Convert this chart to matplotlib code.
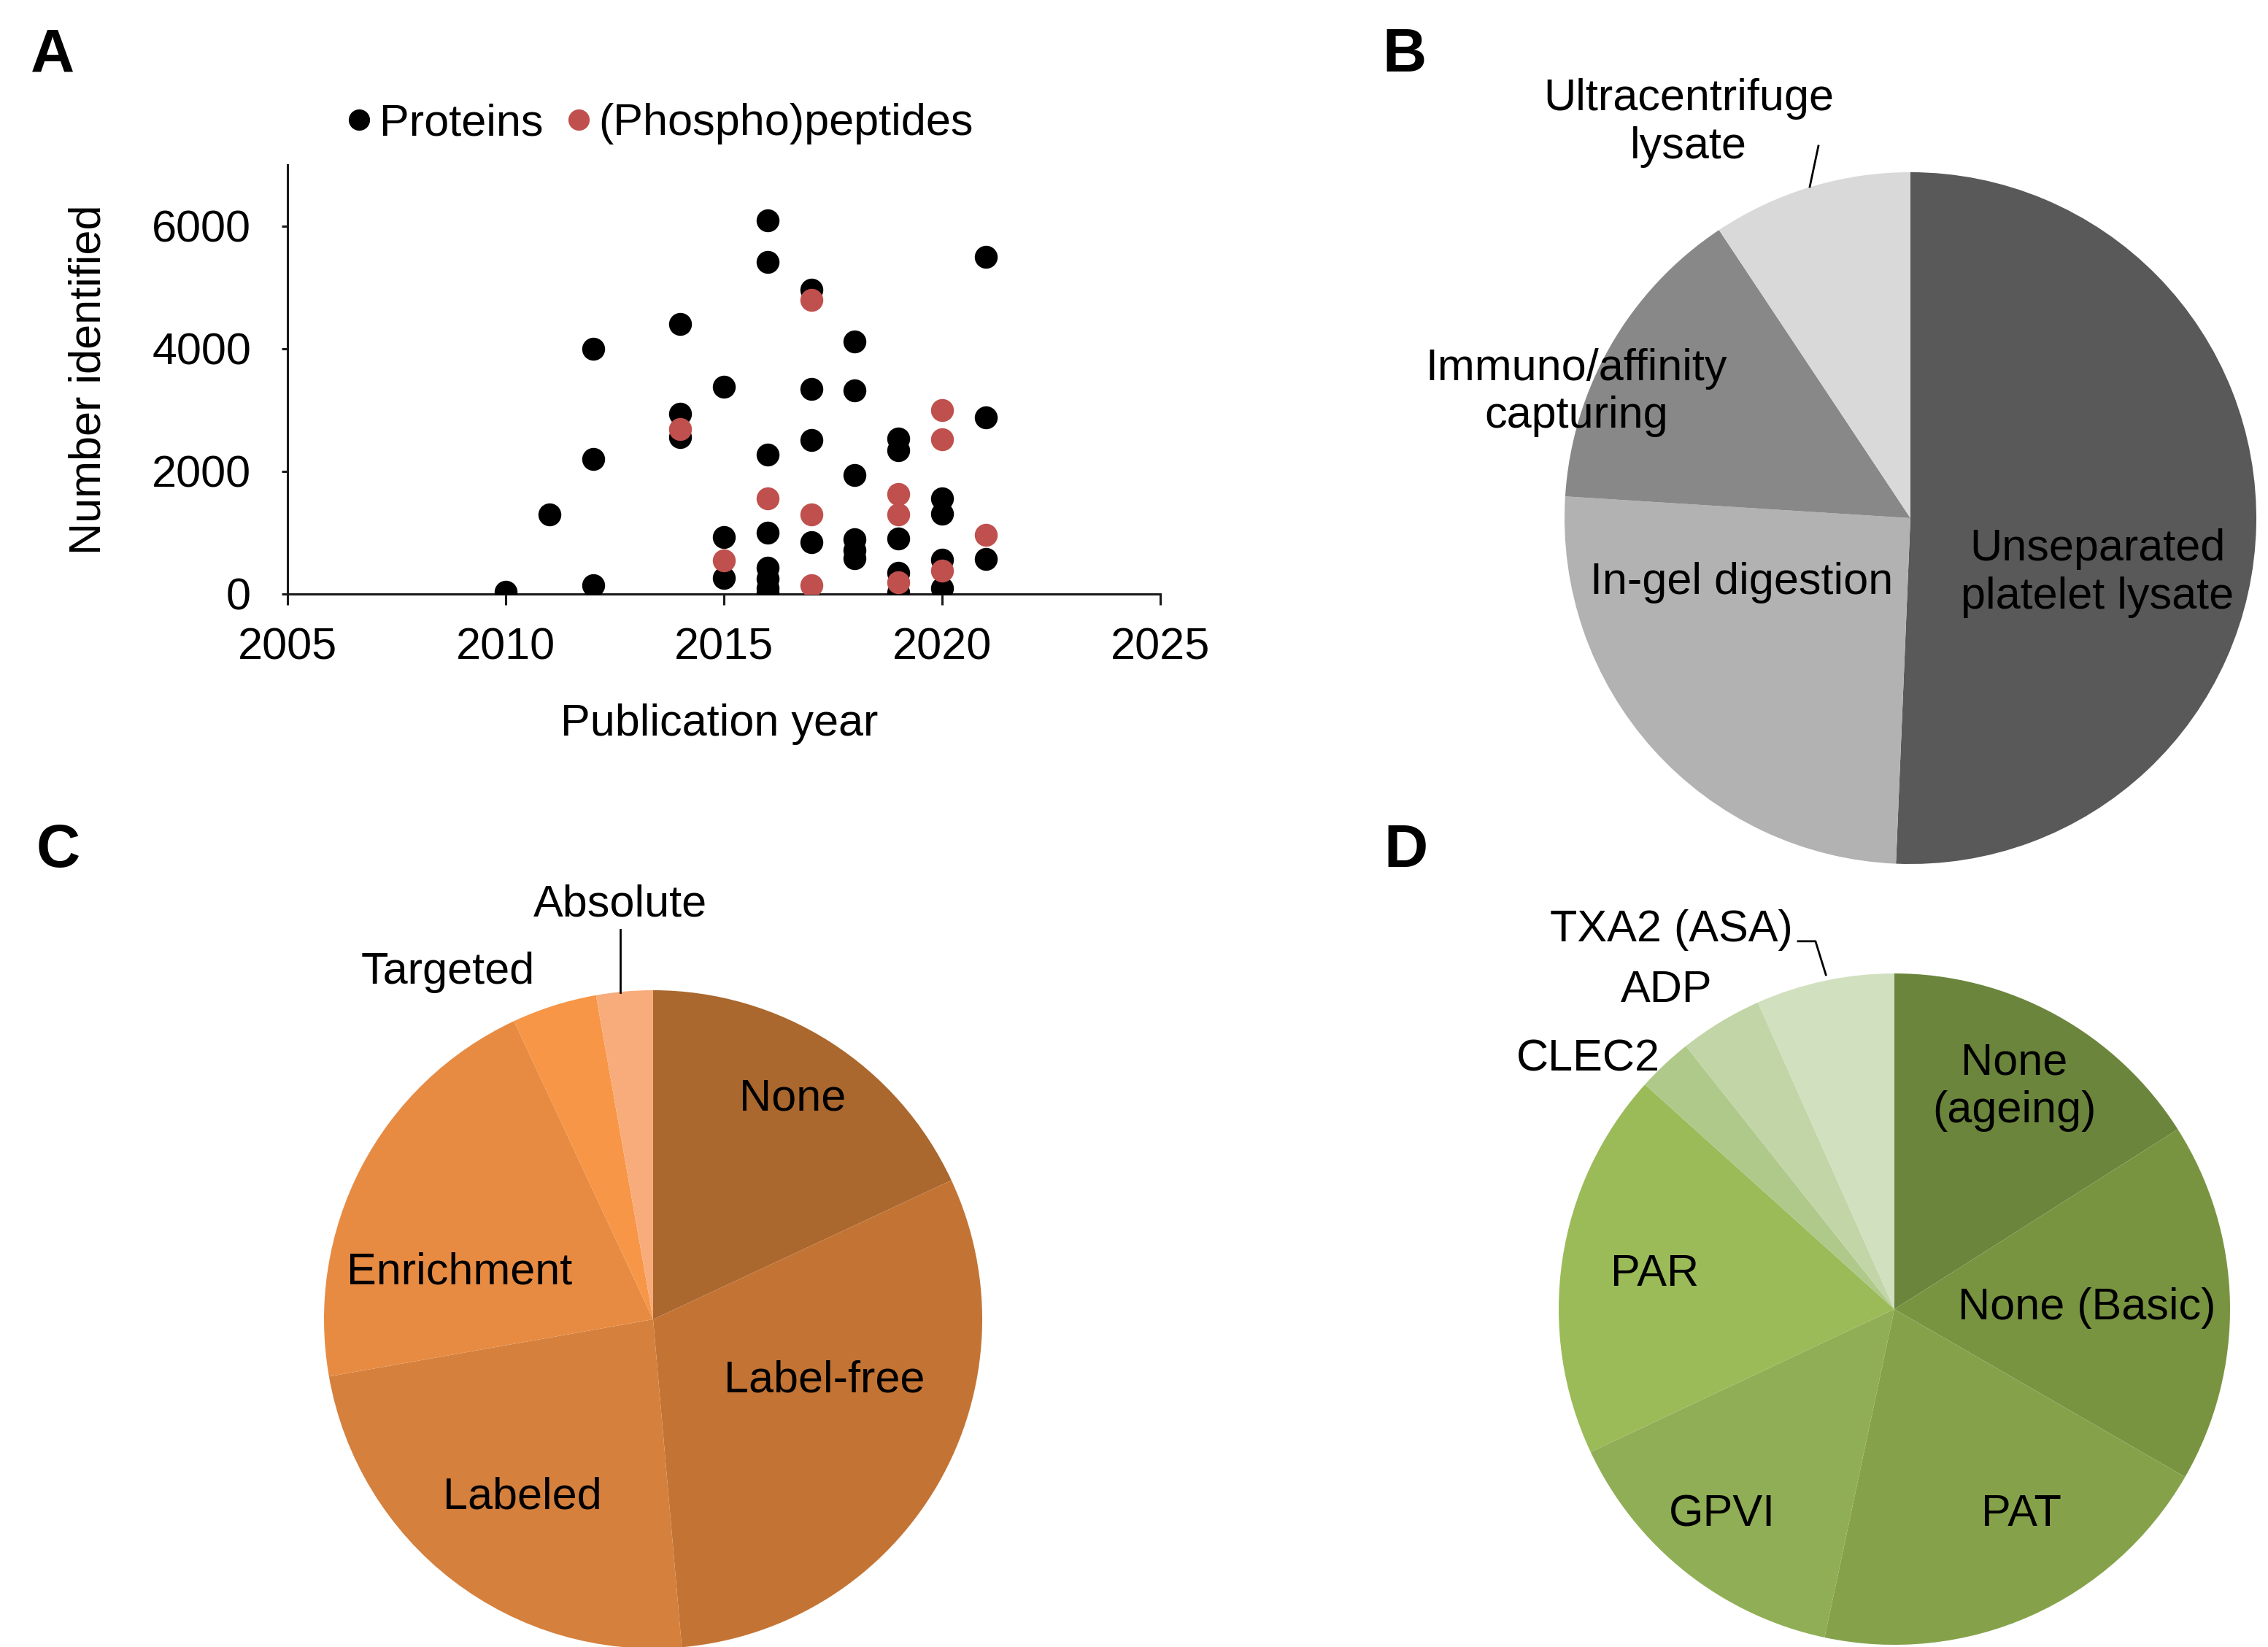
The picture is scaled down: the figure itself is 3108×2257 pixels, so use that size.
import matplotlib
matplotlib.use("Agg")
import matplotlib.pyplot as plt
from matplotlib.lines import Line2D

plt.rcParams['font.family'] = ['Liberation Sans', 'DejaVu Sans']

# ---------------- data ----------------
prot_year = [2010, 2011, 2012, 2012, 2012, 2014, 2014, 2014, 2015, 2015, 2015,
             2016, 2016, 2016, 2016, 2016, 2016, 2016, 2016,
             2017, 2017, 2017, 2017,
             2018, 2018, 2018, 2018, 2018, 2018,
             2019, 2019, 2019, 2019, 2019,
             2020, 2020, 2020, 2020,
             2021, 2021, 2021]
prot_val = [40, 1300, 4000, 2200, 140, 4400, 2940, 2560, 3380, 925, 265,
            6100, 5420, 2270, 1000, 430, 250, 100, 20,
            4960, 3340, 2510, 840,
            4120, 3320, 1940, 890, 720, 580,
            2540, 2350, 900, 345, 25,
            1565, 1310, 555, 95,
            5500, 2880, 570]
pep_year = [2014, 2015, 2016, 2017, 2017, 2017, 2019, 2019, 2019, 2020, 2020, 2020, 2021]
pep_val = [2690, 545, 1555, 4800, 1300, 140, 1630, 1300, 190, 3000, 2520, 380, 970]

x_ticks = [2005, 2010, 2015, 2020, 2025]
y_ticks = [0, 2000, 4000, 6000]

b_labels = ["Unseparated\nplatelet lysate", "In-gel digestion",
            "Immuno/affinity\ncapturing", "Ultracentrifuge\nlysate"]
b_values = [38, 19, 11, 7]
b_colors = ["#595959", "#b2b2b2", "#888888", "#d9d9d9"]

c_labels = ["None", "Label-free", "Labeled", "Enrichment", "Targeted", "Absolute"]
c_values = [13, 22, 17, 15, 3, 2]
c_colors = ["#aa672e", "#c37434", "#d5803d", "#e78b43", "#f79646", "#f8ac7b"]

d_labels = ["None\n(ageing)", "None (Basic)", "PAT", "GPVI", "PAR", "CLEC2", "ADP", "TXA2 (ASA)"]
d_values = [12, 13, 15, 11, 14, 2, 3, 5]
d_colors = ["#6b853c", "#799441", "#85a24b", "#90ae55", "#9bbb59", "#afc98b", "#c2d5a6", "#d1e0bf"]

# ---------------- figure ----------------
W, H = 3108, 2257
DPI = 200
fig = plt.figure(figsize=(W / DPI, H / DPI), dpi=DPI)
FS = 22


def rect(x0, y0, x1, y1):
    return [x0 / W, 1 - y1 / H, (x1 - x0) / W, (y1 - y0) / H]


# Panel A
ax = fig.add_axes(rect(394, 226, 1590, 814))
ax.scatter(prot_year, prot_val, s=128, color="black", linewidths=0, zorder=3, label="Proteins")
ax.scatter(pep_year, pep_val, s=128, color="#c0504d", linewidths=0, zorder=4, label="(Phospho)peptides")
ax.set_xlim(2005, 2025)
ax.set_ylim(0, 7000)
ax.set_xticks(x_ticks)
ax.set_yticks(y_ticks)
ax.spines['top'].set_visible(False)
ax.spines['right'].set_visible(False)
for s in ['left', 'bottom']:
    ax.spines[s].set_linewidth(1.1)
    ax.spines[s].set_color('#1a1a1a')
ax.tick_params(axis='x', direction='out', length=5.5, width=1.1, pad=11, labelsize=FS, color='#1a1a1a')
ax.tick_params(axis='y', direction='out', length=3, width=1.1, pad=15, labelsize=FS, color='#1a1a1a')
ax.set_xlabel("Publication year", fontsize=FS)
ax.set_ylabel("Number identified", fontsize=FS)
ax.xaxis.set_label_coords(0.495, -0.255)
ax.yaxis.set_label_coords(-0.204, 0.5)
for sp in ax.spines.values():
    sp.set_clip_on(False)
handles = [Line2D([], [], marker='o', linestyle='none', color='black', markersize=9.5),
           Line2D([], [], marker='o', linestyle='none', color='#c0504d', markersize=9.5)]
fig.legend(handles, ["Proteins", "(Phospho)peptides"], loc='center',
           bbox_to_anchor=(904 / W, 1 - 170 / H), ncol=2, frameon=False,
           fontsize=FS, handlelength=0.6, handletextpad=0.15, columnspacing=0.5,
           borderpad=0, borderaxespad=0)


def pie_axes(cx, cy, r):
    return fig.add_axes(rect(cx - r, cy - r, cx + r, cy + r))


def draw_pie(a, values, colors):
    a.pie(values, colors=colors, startangle=90, counterclock=False, radius=1,
          wedgeprops=dict(linewidth=0))
    a.set_xlim(-1, 1)
    a.set_ylim(-1, 1)
    a.set_aspect('equal')
    a.axis('off')


# Panel B
axb = pie_axes(2618, 710, 474)
draw_pie(axb, b_values, b_colors)
b_pos = [(0.540, -0.160), (-0.489, -0.186), (-0.966, 0.363), (-0.641, 1.143)]
for lab, (x, y) in zip(b_labels, b_pos):
    axb.text(x, y, lab, ha='center', va='center', fontsize=FS, linespacing=1.2, clip_on=False)
axb.plot([-0.291, -0.266], [0.958, 1.076], color='black', lw=1, clip_on=False)

# Panel C
axc = pie_axes(895, 1808, 451)
draw_pie(axc, c_values, c_colors)
c_pos = [(0.424, 0.670), (0.521, -0.186), (-0.397, -0.541), (-0.588, 0.142),
         (-0.623, 1.055), (-0.100, 1.259)]
for lab, (x, y) in zip(c_labels, c_pos):
    axc.text(x, y, lab, ha='center', va='center', fontsize=FS, clip_on=False)
axc.plot([-0.1, -0.1], [1.184, 0.993], color='black', lw=1, clip_on=False)

# Panel D
axd = pie_axes(2596, 1794, 460)
draw_pie(axd, d_values, d_colors)
d_pos = [(0.357, 0.661), (0.574, 0.004), (0.378, -0.613), (-0.513, -0.613),
         (-0.713, 0.104), (-0.913, 0.743), (-0.678, 0.948), (-0.665, 1.130)]
for lab, (x, y) in zip(d_labels, d_pos):
    axd.text(x, y, lab, ha='center', va='center', fontsize=FS, linespacing=1.2, clip_on=False)
axd.plot([-0.287, -0.235, -0.204], [1.096, 1.096, 0.996], color='black', lw=1, clip_on=False)

# Panel letters
for letter, (x, y) in zip("ABCD", [(72, 76), (1924, 76), (80, 1166), (1926, 1166)]):
    fig.text(x / W, 1 - y / H, letter, ha='center', va='center', fontsize=30, fontweight='bold')

fig.savefig("out.png", dpi=DPI)
